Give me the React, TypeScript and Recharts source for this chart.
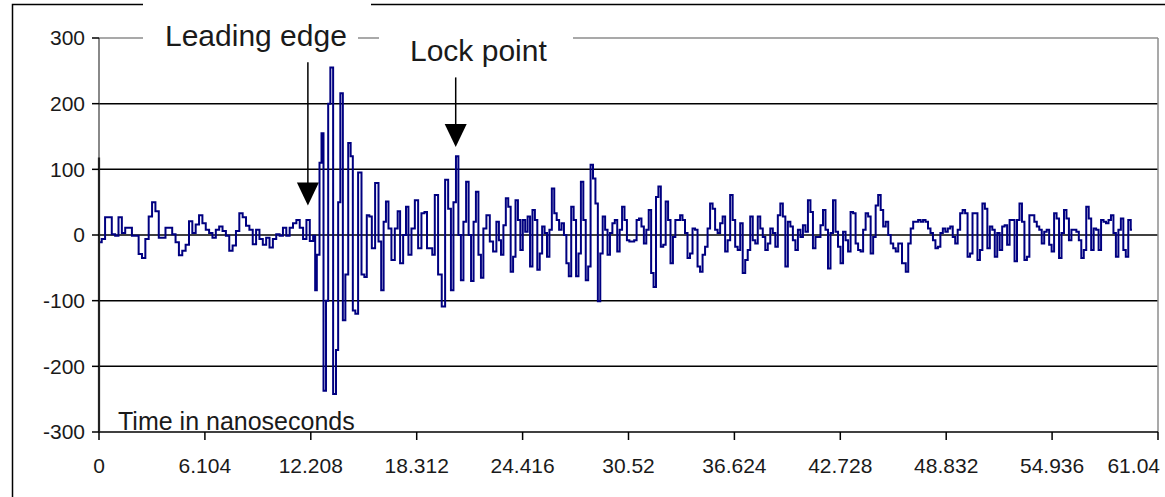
import React from 'react';
import { LineChart, Line, XAxis, YAxis, ReferenceLine } from 'recharts';

// Axis labels
const xTickLabels = ['0', '6.104', '12.208', '18.312', '24.416', '30.52', '36.624', '42.728', '48.832', '54.936', '61.04'];
const yTicks = [-300, -200, -100, 0, 100, 200, 300];
const gridValues = [-200, -100, 0, 100, 200];

// Received waveform, split in segments. Each segment: time span [ns] and its samples.
const quietSpan = [0.06, 12.44];
const quietValues = [-11, -6, 27, 27, 1, -1, 27, 3, 11, 11, -1, -1, -29, -35, -6, 28, 50, 36, -4, -4, 11, 11, 1, -11, -31, -24, -15, 21, 3, 16, 30, 18, 8, 3, -4, 8, 13, 6, -1, -24, -16, 6, 33, 27, 14, 8, -14, 8, -6, -15, -4, -19, -6, 1, -1, 11, -1, 11, 18, 23, 11, -6, 23, -9, -1];

// Burst after the leading edge, sampled at irregular times
const burstTimes = [12.48, 12.63, 12.79, 12.86, 13.02, 13.15, 13.27, 13.40, 13.59, 13.73, 13.84, 13.98, 14.13, 14.27, 14.46, 14.55, 14.71, 14.84, 15.03, 15.23, 15.36, 15.51, 15.65, 15.80, 16.03, 16.19, 16.34, 16.47, 16.61, 16.76, 16.95, 17.15, 17.28, 17.43, 17.63, 17.76, 17.91, 18.11, 18.30, 18.49, 18.68, 18.84, 18.97, 19.16, 19.26, 19.45, 19.64, 19.87, 20.03, 20.22, 20.35, 20.51, 20.64, 20.79, 20.93, 21.08, 21.24, 21.37, 21.52, 21.66, 21.79, 21.95, 22.08, 22.23, 22.43, 22.62, 22.81, 23.00];
const burstValues = [-84, -30, 110, 155, -237, -100, 200, 255, -242, -175, 50, 216, -130, -60, 140, 120, -115, -120, 95, -60, -64, 30, 28, -20, 79, -10, -84, 20, 51, 10, -38, 10, 36, -43, 0, 43, -30, 10, 53, -20, 33, 35, -20, -20, -30, 61, -60, -109, 84, 40, -84, 50, 120, 0, -69, 20, 81, 0, -70, 20, 66, -30, -65, 10, 30, -10, -25, 20];

const echoSpan = [23.1, 33.43];
const echoValues = [-8, -30, 15, 56, 43, -56, -33, 53, 23, -23, 23, 5, 28, -48, 38, 23, -53, -28, 13, 3, -33, 8, 71, 33, 23, 8, 18, 0, -43, -63, 43, 23, -63, -28, 81, 23, -69, -48, 107, 86, 48, -101, -28, 28, 8, -30, 3, 18, 23, -25, 8, 43, 23, -8, -10, -10, -8, 23, 25, 13, -13, 8, 38, -58, -79, 58, 74, -18, -15, 51, 23, -43, -3, 23, 23];

const ringSpan = [33.56, 46.14];
const ringValues = [30, 23, 3, -35, -28, 10, 8, -48, -56, -30, -18, 10, 48, 40, 8, 3, 18, 28, -25, -8, 61, 23, -18, -23, 18, -58, -38, -23, 28, -8, -13, 28, 10, -3, -23, -13, 10, 3, -18, 30, 48, 28, -48, 20, 13, -8, -23, 8, -3, 15, 5, 53, 35, -20, -3, -3, 15, 38, 8, -51, 3, 53, 5, -18, -43, 5, -8, -25, 35, 33, -13, -23, -25, 8, 33, 28, -28, -3, 45, 61, 38, 13, 20, 0, -13, -20, -25, -13];

const tailSpan = [46.43, 59.54];
const tailValues = [-43, -56, -13, 10, 20, 20, 23, 20, 23, 20, 10, 3, -8, -20, -18, 3, 10, 5, 10, 13, -3, -13, 8, 33, 38, 33, -33, -28, 33, 33, -38, -23, 48, 40, -20, 13, 8, -33, 3, -23, 13, 15, -15, 23, 23, -40, 23, 48, 20, -38, -33, 30, 30, 20, 13, 8, -13, 5, 8, -15, -25, 33, 25, -35, 3, 38, 25, -8, 8, 8, 5, -8, -35, -23, 43, 25, -23, 10, 8, -23, 23, 20, 18, 23, 30, 3, -33, 8, 25, -23, -33, 23, 8];

// Annotation anchors (time in ns, amplitude)
const leadingEdgeArrow = { t: 12.04, tip: 45, top: 263 };
const lockPointArrow = { t: 20.56, tip: 134, top: 240 };
// Darker stretch of the value axis, from the bottom up to this amplitude
const axisMarkTop = 118;

type Pt = { t: number; v: number };

const spread = (span: number[], values: number[]): Pt[] =>
  values.map((v, i) => ({ t: span[0] + (i * (span[1] - span[0])) / (values.length - 1), v }));

const data: Pt[] = [
  ...spread(quietSpan, quietValues),
  ...burstValues.map((v, i) => ({ t: burstTimes[i], v })),
  ...spread(echoSpan, echoValues),
  ...spread(ringSpan, ringValues),
  ...spread(tailSpan, tailValues),
];

const W = 1165;
const H = 497;
const PLOT = { left: 99, right: 1158, top: 38, bottom: 432 };
const X_MAX = Number(xTickLabels[xTickLabels.length - 1]);
const FONT = '"Liberation Sans", Arial, sans-serif';
const TEXT = '#1a1a1a';

const px = (t: number) => PLOT.left + (t / X_MAX) * (PLOT.right - PLOT.left);
const py = (v: number) => PLOT.top + ((300 - v) / 600) * (PLOT.bottom - PLOT.top);

const TimeTick = (props: any) => {
  const { x, y, index } = props;
  const last = index === xTickLabels.length - 1;
  return (
    <text
      x={last ? x + 2 : x}
      y={y + 31}
      textAnchor={last ? 'end' : 'middle'}
      fontSize={21}
      fontFamily={FONT}
      fill={TEXT}
    >
      {xTickLabels[index]}
    </text>
  );
};

const AmplitudeTick = (props: any) => {
  const { x, y, payload } = props;
  return (
    <text x={x - 5} y={y} dy="0.35em" textAnchor="end" fontSize={21} fontFamily={FONT} fill={TEXT}>
      {payload.value}
    </text>
  );
};

const Arrow = ({ t, tip, top }: { t: number; tip: number; top: number }) => {
  const x = px(t);
  const yTip = py(tip);
  const yTop = py(top);
  return (
    <g>
      <line x1={x} y1={yTop} x2={x} y2={yTip - 20} stroke="#000" strokeWidth={1.5} />
      <polygon points={`${x - 11},${yTip - 23} ${x + 11},${yTip - 23} ${x},${yTip}`} fill="#000" />
    </g>
  );
};

export default function App() {
  return (
    <div style={{ position: 'absolute', left: 0, top: 0, width: W, height: H, background: '#fff' }}>
      <LineChart
        width={W}
        height={H}
        data={data}
        margin={{ top: PLOT.top, right: W - PLOT.right, bottom: 0, left: 0 }}
      >
        {gridValues.map((g) => (
          <ReferenceLine key={g} y={g} stroke="#000" strokeWidth={1.5} />
        ))}
        <ReferenceLine y={300} stroke="#8c8c8c" strokeWidth={1.5} />
        <ReferenceLine x={X_MAX} stroke="#8c8c8c" strokeWidth={1.5} />
        <XAxis
          dataKey="t"
          type="number"
          domain={[0, X_MAX]}
          ticks={xTickLabels.map(Number)}
          interval={0}
          allowDataOverflow
          height={H - PLOT.bottom}
          tickSize={8}
          axisLine={{ stroke: '#000', strokeWidth: 1.5 }}
          tickLine={{ stroke: '#000', strokeWidth: 1.5 }}
          tick={<TimeTick />}
        />
        <YAxis
          type="number"
          domain={[-300, 300]}
          ticks={yTicks}
          interval={0}
          width={PLOT.left}
          tickSize={7}
          axisLine={{ stroke: '#3a3a3a', strokeWidth: 1.2 }}
          tickLine={{ stroke: '#000', strokeWidth: 1.5 }}
          tick={<AmplitudeTick />}
        />
        <ReferenceLine
          segment={[{ x: 0, y: -300 }, { x: 0, y: axisMarkTop }]}
          stroke="#000"
          strokeWidth={2.2}
        />
        <Line
          type="step"
          dataKey="v"
          stroke="#000080"
          strokeWidth={2}
          dot={false}
          isAnimationActive={false}
        />
      </LineChart>
      <svg
        width={W}
        height={H}
        style={{ position: 'absolute', left: 0, top: 0, pointerEvents: 'none' }}
      >
        <path d="M12.5,497 V4.5 H143 M371,4.5 H1165" fill="none" stroke="#000" strokeWidth={1.5} />
        <rect x={143} y={0} width={215} height={54} fill="#fff" />
        <text x={165} y={46} fontSize={30} fontFamily={FONT} fill={TEXT}>Leading edge</text>
        <rect x={379} y={24} width={194} height={38} fill="#fff" />
        <text x={410} y={61} fontSize={30} fontFamily={FONT} fill={TEXT}>Lock point</text>
        <Arrow {...leadingEdgeArrow} />
        <Arrow {...lockPointArrow} />
        <text x={118} y={430} fontSize={25} fontFamily={FONT} fill={TEXT}>Time in nanoseconds</text>
      </svg>
    </div>
  );
}
